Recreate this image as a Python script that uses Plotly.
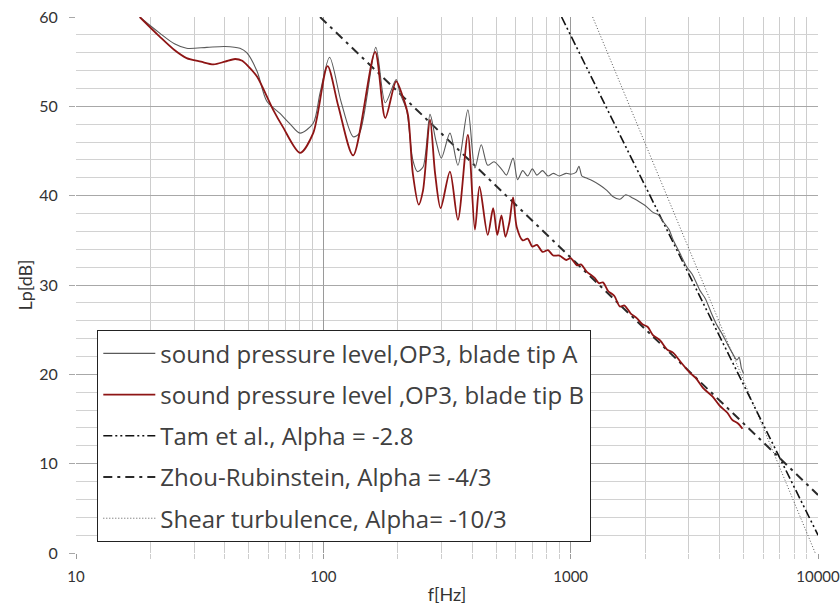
import plotly.graph_objects as go

# ---- data ----
a_freq = [18.1, 21.8, 25, 28, 33.8, 40, 46, 49, 54, 59, 66.8, 73, 80.5, 91, 97, 106,
          118, 132, 140, 163, 178, 197, 204, 217, 230, 240, 253, 270, 285, 300, 325, 350,
          384, 410, 435, 462, 490, 528, 550, 585, 610, 640, 670, 700, 730, 770, 810, 850,
          900, 960, 1000, 1050, 1080, 1110, 1150, 1220, 1310, 1400, 1480, 1580, 1670, 1790,
          1900, 2000, 2160, 2250, 2380, 2500, 2600, 2760, 2950, 3100, 3330, 3500, 3700, 3870,
          4100, 4300, 4500, 4700, 4800, 4900, 5000]
a_level = [60, 58.2, 57.0, 56.5, 56.6, 56.7, 56.5, 56.0, 53.9, 50.6, 49.2, 48.1, 47.0, 48.1, 51.5, 55.5,
           50.5, 46.6, 47.0, 56.6, 50.4, 53.0, 51.5, 49.6, 44.0, 42.7, 43.2, 49.1, 46.2, 44.2, 47.0, 43.4,
           49.6, 43.1, 45.7, 43.4, 43.8, 42.9, 42.3, 44.2, 41.8, 42.8, 42.2, 43.0, 42.3, 42.8, 42.2, 42.5,
           42.2, 42.5, 42.4, 42.6, 43.3, 42.2, 42.0, 41.7, 41.2, 40.6, 39.9, 39.6, 40.1, 39.7,
           39.3, 38.9, 38.1, 37.9, 37.0, 36.2, 35.0, 33.6, 32.0, 31.2, 29.4, 28.5, 26.9, 25.7,
           24.5, 23.4, 22.4, 21.6, 21.9, 20.7, 20.1]

b_freq = [18.1, 21.8, 25, 28, 32, 36, 40, 44, 47, 50, 54, 62.7, 68.6, 80.5, 91, 104,
          115, 132, 162, 178, 197, 210, 220, 230, 243, 253, 270, 283, 298, 325, 350, 384,
          410, 428, 462, 486, 505, 525, 545, 565, 585, 605, 640, 670, 700, 730, 770, 810,
          850, 900, 960, 1000, 1060, 1100, 1160, 1250, 1300, 1350, 1420, 1500, 1580, 1650,
          1750, 1850, 1950, 2050, 2150, 2300, 2450, 2600, 2800, 3030, 3200, 3450, 3750, 4000,
          4300, 4500, 4750, 4950]
b_level = [60, 57.8, 56.3, 55.4, 55.0, 54.7, 55.0, 55.3, 55.1, 54.4, 53.3, 49.6, 47.7, 44.8, 47.0, 54.5,
           50.0, 44.5, 56.1, 48.7, 52.8, 51.0, 49.0, 42.5, 39.0, 40.6, 48.5, 42.5, 38.6, 42.7, 37.3, 46.8,
           36.2, 41.0, 35.6, 38.6, 35.6, 37.8, 35.4, 37.0, 39.8, 36.5, 35.0, 35.2, 34.3, 34.5, 33.7, 33.9,
           33.3, 33.3, 32.8, 33.0, 32.2, 32.3, 31.5, 30.8, 30.2, 30.3, 29.3, 28.8, 27.6, 27.7,
           26.8, 26.3, 25.6, 25.3, 24.4, 23.8, 22.8, 22.4, 21.3, 20.2, 19.6, 18.4, 17.5, 16.5,
           15.7, 14.9, 14.5, 13.9]

# straight reference lines (end points)
tam_freq = [919, 10000]
tam_level = [60, 2.0]
zhou_freq = [97, 10000]
zhou_level = [60, 6.5]
shear_freq = [1227, 9745]
shear_level = [60, 0]

names = ["sound pressure level,OP3, blade tip A",
         "sound pressure level ,OP3, blade tip B",
         "Tam et al., Alpha = -2.8",
         "Zhou-Rubinstein, Alpha = -4/3",
         "Shear turbulence, Alpha= -10/3"]

x_ticks = [10, 100, 1000, 10000]
y_ticks = [0, 10, 20, 30, 40, 50, 60]

minor_x = [m * 10 ** k for k in range(1, 4) for m in range(2, 10)]

fig = go.Figure()
fig.add_trace(go.Scatter(x=shear_freq, y=shear_level, mode="lines", name=names[4],
                         line=dict(color="#555555", width=1, dash="1px,2px"),
                         legendgroup="e", legendrank=5))
fig.add_trace(go.Scatter(x=zhou_freq, y=zhou_level, mode="lines", name=names[3],
                         line=dict(color="#2a2a2a", width=2, dash="9px,5px,3px,5px"),
                         legendgroup="d", legendrank=4))
fig.add_trace(go.Scatter(x=tam_freq, y=tam_level, mode="lines", name=names[2],
                         line=dict(color="#111111", width=1.6, dash="9px,3px,2px,3px,2px,3px"),
                         legendgroup="c", legendrank=3))
fig.add_trace(go.Scatter(x=a_freq, y=a_level, mode="lines", name=names[0],
                         line=dict(color="#5a5a5a", width=1.1, shape="spline", smoothing=0.8),
                         legendgroup="a", legendrank=1))
fig.add_trace(go.Scatter(x=b_freq, y=b_level, mode="lines", name=names[1],
                         line=dict(color="#8e1515", width=1.8, shape="spline", smoothing=0.8),
                         legendgroup="b", legendrank=2))

fig.update_layout(
    width=840, height=608,
    margin=dict(l=76, r=22, t=17, b=55, autoexpand=False),
    paper_bgcolor="white", plot_bgcolor="white",
    font=dict(family="Lato", color="#333333"),
    legend=dict(x=0.0283, y=0.416, xanchor="left", yanchor="top",
                bgcolor="white", bordercolor="#222222", borderwidth=1.3,
                font=dict(size=24, color="#404040", family="Open Sans"),
                tracegroupgap=7, itemwidth=52),
    xaxis=dict(type="log", range=[1, 4], tickvals=x_ticks, ticktext=[str(v) for v in x_ticks],
               showgrid=True, gridcolor="#9a9a9a", gridwidth=1, automargin=False,
               ticks="outside", ticklen=5, tickcolor="#9a9a9a", ticklabelstandoff=5,
               ticklabeloverflow="allow",
               tickfont=dict(size=15, color="#333333"),
               minor=dict(tickvals=minor_x, showgrid=True, gridcolor="#cdcdcd",
                          ticks="outside", ticklen=5, tickcolor="#cdcdcd"),
               showline=False, zeroline=False,
               title=dict(text="f[Hz]", font=dict(size=18, color="#333333"), standoff=4)),
    yaxis=dict(range=[0, 60], tickvals=y_ticks, showgrid=True, gridcolor="#a8a8a8",
               automargin=False,
               ticks="outside", ticklen=6, tickcolor="#a8a8a8", ticklabelstandoff=8,
               ticklabeloverflow="allow",
               tickfont=dict(size=16, color="#333333"),
               minor=dict(dtick=2, showgrid=True, gridcolor="#d2d2d2"),
               showline=False, zeroline=False,
               title=dict(text="Lp[dB]", font=dict(size=18, color="#333333"), standoff=1)),
)

# remove the default page margin so the 840x608 figure fills the window exactly
fig.write_html("out.html",
               config={"displayModeBar": False},
               post_script="document.body.style.margin='0px';document.body.style.overflow='hidden';")
